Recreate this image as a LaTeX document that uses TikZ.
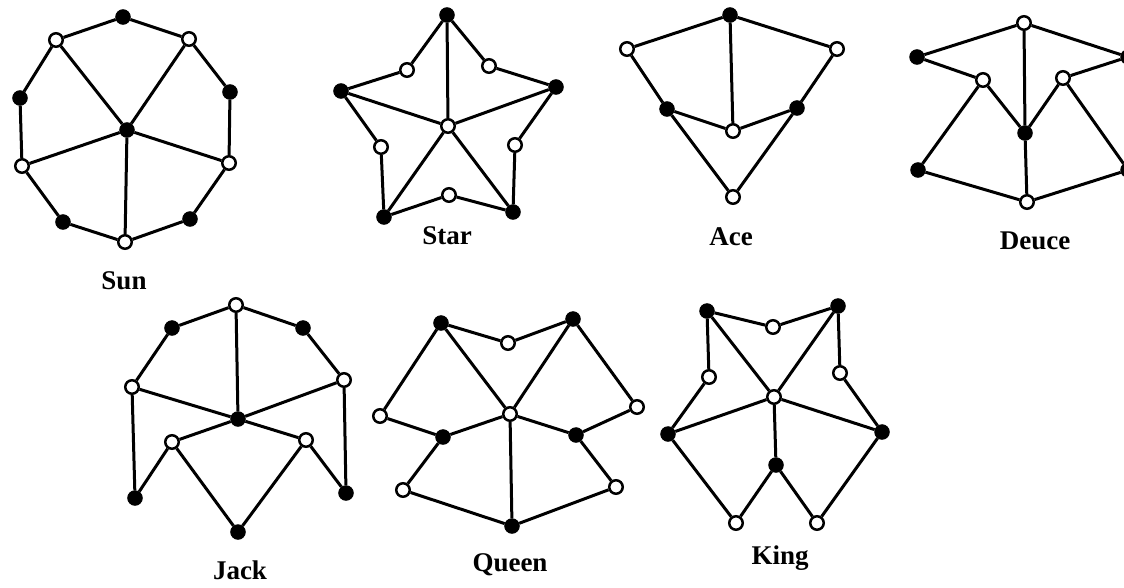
\documentclass[tikz,border=0pt]{standalone}
\usepackage{fontspec}
\setmainfont{Liberation Serif}
\begin{document}
\begin{tikzpicture}[x=1pt,y=-1pt,
  wn/.style={circle,draw=black,fill=white,line width=2.5pt,inner sep=0pt,minimum size=13.5pt},
  bn/.style={circle,draw=black,fill=black,line width=1pt,inner sep=0pt,minimum size=14.5pt},
  ed/.style={line width=3pt},
  lab/.style={anchor=base,font=\fontsize{27}{31}\selectfont\bfseries,inner sep=0pt}]
\useasboundingbox (0,0) rectangle (1124,587);
\fill[white] (0,0) rectangle (1124,587);
% ---------- Sun ----------
\node[bn] (sT) at (123,17) {};
\node[wn] (sUL) at (56,40) {};
\node[wn] (sUR) at (189,39) {};
\node[bn] (sL) at (20,98) {};
\node[bn] (sR) at (230,92) {};
\node[bn] (sC) at (127,130) {};
\node[wn] (sLw) at (22,166) {};
\node[wn] (sRw) at (229,163) {};
\node[bn] (sLL) at (63,222) {};
\node[bn] (sLR) at (190,219) {};
\node[wn] (sB) at (125,242) {};
\draw[ed] (sT)--(sUR)--(sR)--(sRw)--(sLR)--(sB)--(sLL)--(sLw)--(sL)--(sUL)--(sT);
\draw[ed] (sC)--(sUL) (sC)--(sUR) (sC)--(sLw) (sC)--(sRw) (sC)--(sB);
\node[lab] (sunlab) at (124,289) {Sun};
% ---------- Star ----------
\node[bn] (tT) at (447,15) {};
\node[wn] (tULw) at (407,70) {};
\node[wn] (tURw) at (489,66) {};
\node[bn] (tL) at (341,91) {};
\node[bn] (tR) at (556,87) {};
\node[wn] (tC) at (448,126) {};
\node[wn] (tLw) at (381,147) {};
\node[wn] (tRw) at (515,145) {};
\node[bn] (tLL) at (384,217) {};
\node[bn] (tLR) at (513,212) {};
\node[wn] (tB) at (449,195) {};
\draw[ed] (tT)--(tULw)--(tL)--(tLw)--(tLL)--(tB)--(tLR)--(tRw)--(tR)--(tURw)--(tT);
\draw[ed] (tC)--(tT) (tC)--(tL) (tC)--(tR) (tC)--(tLL) (tC)--(tLR);
\node[lab] (starlab) at (447,244) {Star};
% ---------- Ace ----------
\node[bn] (aT) at (730,15) {};
\node[wn] (aLw) at (627,49) {};
\node[wn] (aRw) at (837,49) {};
\node[bn] (aL) at (667,109) {};
\node[bn] (aR) at (797,108) {};
\node[wn] (aC) at (733,131) {};
\node[wn] (aB) at (733,197) {};
\draw[ed] (aLw)--(aT)--(aRw)--(aR)--(aB)--(aL)--(aLw);
\draw[ed] (aL)--(aC)--(aR) (aT)--(aC);
\node[lab] (acelab) at (731,245) {Ace};
% ---------- Deuce ----------
\node[wn] (dT) at (1024,23) {};
\node[bn] (dL) at (917,57) {};
\node[bn] (dR) at (1128,57) {};
\node[wn] (dIL) at (983,80) {};
\node[wn] (dIR) at (1063,78) {};
\node[bn] (dC) at (1025,133) {};
\node[bn] (dLL) at (918,170) {};
\node[bn] (dLR) at (1128,170) {};
\node[wn] (dB) at (1027,202) {};
\draw[ed] (dL)--(dT)--(dR) (dL)--(dIL)--(dLL)--(dB)--(dLR)--(dIR)--(dR);
\draw[ed] (dIL)--(dC)--(dIR) (dT)--(dC)--(dB);
\node[lab] (deucelab) at (1035,249) {Deuce};
% ---------- Jack ----------
\node[wn] (jT) at (236,305) {};
\node[bn] (jUL) at (172,328) {};
\node[bn] (jUR) at (303,328) {};
\node[wn] (jL) at (132,387) {};
\node[wn] (jR) at (344,380) {};
\node[bn] (jC) at (238,419) {};
\node[wn] (jIL) at (172,442) {};
\node[wn] (jIR) at (306,440) {};
\node[bn] (jLL) at (135,498) {};
\node[bn] (jLR) at (346,493) {};
\node[bn] (jB) at (238,532) {};
\draw[ed] (jL)--(jUL)--(jT)--(jUR)--(jR)--(jLR)--(jIR)--(jB)--(jIL)--(jLL)--(jL);
\draw[ed] (jC)--(jT) (jC)--(jL) (jC)--(jR) (jC)--(jIL) (jC)--(jIR);
\node[lab] (jacklab) at (240,579) {Jack};
% ---------- Queen ----------
\node[bn] (qUL) at (441,323) {};
\node[bn] (qUR) at (573,319) {};
\node[wn] (qT) at (508,343) {};
\node[wn] (qL) at (380,416) {};
\node[wn] (qR) at (637,407) {};
\node[wn] (qC) at (510,414) {};
\node[bn] (qML) at (443,437) {};
\node[bn] (qMR) at (576,435) {};
\node[wn] (qLL) at (403,490) {};
\node[wn] (qLR) at (616,487) {};
\node[bn] (qB) at (512,526) {};
\draw[ed] (qUL)--(qT)--(qUR)--(qR)--(qMR)--(qLR)--(qB)--(qLL)--(qML)--(qL)--(qUL);
\draw[ed] (qC)--(qUL) (qC)--(qUR) (qC)--(qML) (qC)--(qMR) (qC)--(qB);
\node[lab] (queenlab) at (510,571) {Queen};
% ---------- King ----------
\node[bn] (kUL) at (707,311) {};
\node[bn] (kUR) at (838,306) {};
\node[wn] (kT) at (773,327) {};
\node[wn] (kLw) at (709,377) {};
\node[wn] (kRw) at (840,373) {};
\node[wn] (kC) at (774,397) {};
\node[bn] (kL) at (668,434) {};
\node[bn] (kR) at (882,432) {};
\node[bn] (kM) at (776,465) {};
\node[wn] (kLL) at (736,523) {};
\node[wn] (kLR) at (817,523) {};
\draw[ed] (kUL)--(kT)--(kUR)--(kRw)--(kR)--(kLR)--(kM)--(kLL)--(kL)--(kLw)--(kUL);
\draw[ed] (kC)--(kUL) (kC)--(kUR) (kC)--(kL) (kC)--(kR) (kC)--(kM);
\node[lab] (kinglab) at (780,564) {King};
\end{tikzpicture}
\end{document}
